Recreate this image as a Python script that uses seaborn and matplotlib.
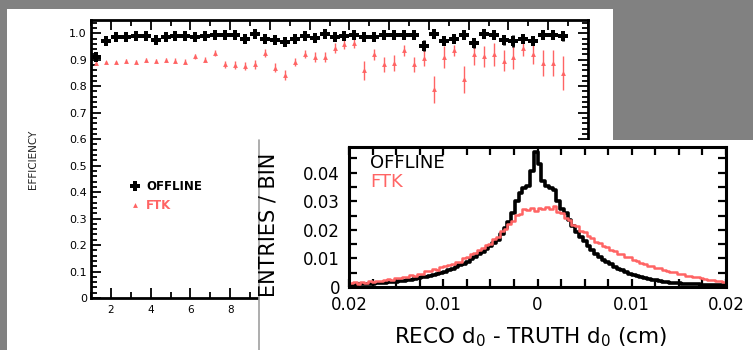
import numpy as np
import pandas as pd
import matplotlib
matplotlib.use("Agg")
import matplotlib.pyplot as plt
import matplotlib.ticker as mticker
from matplotlib.patches import Rectangle
from matplotlib.lines import Line2D
import seaborn as sns

sns.set_theme(style="ticks")
plt.rcParams["font.family"] = ["DejaVu Sans"]

RED = "#ff6464"
W, H = 753, 350

# efficiency vs pT, bin centres
pt_centres = [1.25, 1.75, 2.25, 2.75, 3.25, 3.75, 4.25, 4.75, 5.25, 5.75,
              6.25, 6.75, 7.25, 7.75, 8.25, 8.75, 9.25, 9.75, 10.25, 10.75,
              11.25, 11.75, 12.25, 12.75, 13.25, 13.75, 14.25, 14.75, 15.25, 15.75,
              16.25, 16.75, 17.25, 17.75, 18.25, 18.75, 19.25, 19.75, 20.25, 20.75,
              21.25, 21.75, 22.25, 22.75, 23.25, 23.75, 24.25, 24.75]
eff_offline = [0.910, 0.970, 0.986, 0.986, 0.990, 0.990, 0.975, 0.985, 0.990, 0.990,
               0.986, 0.990, 0.993, 0.993, 0.993, 0.977, 0.998, 0.980, 0.975, 0.968,
               0.980, 0.990, 0.983, 0.997, 0.986, 0.990, 0.995, 0.986, 0.986, 0.995,
               0.995, 0.995, 0.995, 0.953, 0.997, 0.972, 0.977, 0.995, 0.963, 0.997,
               0.995, 0.975, 0.970, 0.980, 0.972, 0.995, 0.995, 0.990]
err_offline = [0.004, 0.003, 0.003, 0.003, 0.003, 0.003, 0.003, 0.003, 0.003, 0.003,
               0.003, 0.003, 0.003, 0.003, 0.003, 0.004, 0.004, 0.004, 0.004, 0.005,
               0.005, 0.005, 0.005, 0.005, 0.005, 0.005, 0.005, 0.005, 0.005, 0.005,
               0.005, 0.005, 0.005, 0.020, 0.006, 0.018, 0.015, 0.006, 0.018, 0.010,
               0.010, 0.018, 0.022, 0.012, 0.018, 0.018, 0.018, 0.020]
eff_ftk = [0.886, 0.892, 0.890, 0.895, 0.892, 0.900, 0.897, 0.900, 0.897, 0.892,
           0.913, 0.900, 0.926, 0.882, 0.880, 0.876, 0.882, 0.926, 0.870, 0.842,
           0.891, 0.922, 0.910, 0.910, 0.945, 0.960, 0.962, 0.860, 0.920, 0.882,
           0.888, 0.935, 0.882, 0.905, 0.788, 0.910, 0.935, 0.826, 0.920, 0.913,
           0.920, 0.897, 0.910, 0.945, 0.922, 0.888, 0.888, 0.850]
err_ftk = [0.005, 0.005, 0.005, 0.006, 0.006, 0.007, 0.007, 0.008, 0.008, 0.009,
           0.010, 0.010, 0.012, 0.014, 0.014, 0.015, 0.016, 0.015, 0.016, 0.020,
           0.016, 0.016, 0.018, 0.018, 0.018, 0.018, 0.018, 0.035, 0.022, 0.030,
           0.030, 0.022, 0.030, 0.030, 0.050, 0.040, 0.022, 0.050, 0.040, 0.040,
           0.045, 0.040, 0.045, 0.030, 0.040, 0.050, 0.050, 0.065]

# d0 resolution, 100 bins of 0.0004 cm on [-0.02, 0.02]
D0_BINW = 0.0004
d0_centres = [round(-0.0198 + D0_BINW * i, 5) for i in range(100)]
d0_offline = [0.0008, 0.0008, 0.0009, 0.0010, 0.0010, 0.0011, 0.0012, 0.0013, 0.0014, 0.0015,
              0.0016, 0.0017, 0.0019, 0.0020, 0.0022, 0.0024, 0.0026, 0.0028, 0.0031, 0.0034,
              0.0036, 0.0039, 0.0042, 0.0045, 0.0049, 0.0053, 0.0058, 0.0063, 0.0069, 0.0076,
              0.0082, 0.0089, 0.0097, 0.0106, 0.0114, 0.0122, 0.0132, 0.0142, 0.0153, 0.0165,
              0.0185, 0.0205, 0.0228, 0.0258, 0.0300, 0.0330, 0.0345, 0.0352, 0.0405, 0.0474,
              0.0430, 0.0370, 0.0352, 0.0348, 0.0340, 0.0300, 0.0272, 0.0258, 0.0235, 0.0215,
              0.0192, 0.0175, 0.0160, 0.0145, 0.0130, 0.0117, 0.0106, 0.0096, 0.0087, 0.0079,
              0.0071, 0.0064, 0.0058, 0.0052, 0.0047, 0.0042, 0.0038, 0.0034, 0.0031, 0.0028,
              0.0025, 0.0023, 0.0021, 0.0019, 0.0017, 0.0015, 0.0014, 0.0013, 0.0012, 0.0011,
              0.0010, 0.0009, 0.0009, 0.0008, 0.0008, 0.0007, 0.0007, 0.0006, 0.0006, 0.0006]
d0_ftk = [0.0013, 0.0016, 0.0012, 0.0018, 0.0015, 0.0020, 0.0018, 0.0021, 0.0022, 0.0025,
          0.0027, 0.0025, 0.0032, 0.0031, 0.0035, 0.0035, 0.0041, 0.0037, 0.0046, 0.0045,
          0.0056, 0.0055, 0.0063, 0.0061, 0.0069, 0.0072, 0.0078, 0.0080, 0.0087, 0.0089,
          0.0100, 0.0105, 0.0114, 0.0118, 0.0130, 0.0135, 0.0148, 0.0152, 0.0168, 0.0175,
          0.0195, 0.0202, 0.0221, 0.0232, 0.0251, 0.0255, 0.0272, 0.0268, 0.0276, 0.0266,
          0.0278, 0.0272, 0.0281, 0.0274, 0.0284, 0.0262, 0.0258, 0.0242, 0.0235, 0.0217,
          0.0212, 0.0195, 0.0191, 0.0177, 0.0170, 0.0158, 0.0154, 0.0143, 0.0139, 0.0130,
          0.0126, 0.0116, 0.0114, 0.0105, 0.0104, 0.0094, 0.0092, 0.0084, 0.0082, 0.0074,
          0.0073, 0.0066, 0.0065, 0.0058, 0.0057, 0.0051, 0.0051, 0.0045, 0.0045, 0.0040,
          0.0039, 0.0034, 0.0034, 0.0030, 0.0029, 0.0026, 0.0025, 0.0022, 0.0022, 0.0017]

d0_df = pd.DataFrame({"d0": d0_centres, "offline": d0_offline, "ftk": d0_ftk})

fig = plt.figure(figsize=(W / 100, H / 100), dpi=100, facecolor="#818181")

# white slide panels
fig.add_artist(Rectangle((7 / W, 0), 606 / W, 341 / H, transform=fig.transFigure,
                         facecolor="white", edgecolor="none", zorder=-1))
fig.add_artist(Rectangle((259 / W, 0), 494 / W, 210 / H, transform=fig.transFigure,
                         facecolor="white", edgecolor="none", zorder=1))
fig.add_artist(Line2D([259 / W, 259 / W], [0, 210 / H], transform=fig.transFigure,
                      color="#a0a0a0", lw=1.2, zorder=1.1))

# ---- efficiency plot ----
ax = fig.add_axes([91 / W, 52 / H, 497 / W, 278 / H], zorder=0)
ax.set_facecolor("white")
ax.errorbar(pt_centres, eff_ftk, yerr=err_ftk, fmt="^", color=RED, ms=3.5,
            elinewidth=1.0, capsize=0, mew=0, zorder=3)
ax.errorbar(pt_centres, eff_offline, yerr=err_offline, fmt="P", color="black", ms=7.5,
            elinewidth=2.0, capsize=0, mew=0, zorder=4)
ax.set_xlim(1, 26)
ax.set_ylim(0, 1.05)
ax.xaxis.set_major_locator(mticker.MultipleLocator(2))
ax.xaxis.set_minor_locator(mticker.MultipleLocator(1))
# labels past 8 sit under the inset panel
ax.xaxis.set_major_formatter(mticker.FuncFormatter(lambda v, _: f"{v:.0f}" if v < 9 else ""))
ax.yaxis.set_major_locator(mticker.MultipleLocator(0.1))
ax.yaxis.set_minor_locator(mticker.MultipleLocator(0.02))
ax.yaxis.set_major_formatter(mticker.FuncFormatter(lambda v, _: "0" if abs(v) < 1e-9 else f"{v:.1f}"))
ax.tick_params(which="both", direction="in", top=True, right=True, width=1.3, colors="black")
ax.tick_params(which="major", length=7)
ax.tick_params(which="minor", length=4)
ax.tick_params(axis="y", which="major", labelsize=8, pad=3)
ax.tick_params(axis="x", which="major", labelsize=7.5, pad=5)
for s in ax.spines.values():
    s.set_linewidth(2)
    s.set_color("black")

handles = [Line2D([], [], marker="P", color="black", ls="none", ms=7, mew=0),
           Line2D([], [], marker="^", color=RED, ls="none", ms=3.5, mew=0)]
leg = ax.legend(handles, ["OFFLINE", "FTK"], loc="upper left", bbox_to_anchor=(0.08, 0.425),
                frameon=False, handlelength=0.8, handletextpad=0.5, labelspacing=0.55,
                borderpad=0, borderaxespad=0, prop={"weight": "bold", "size": 8.5})
for t, c in zip(leg.get_texts(), ["black", RED]):
    t.set_color(c)

fig.text(33 / W, 1 - 159 / H, "EFFICIENCY", rotation=90, ha="center", va="center",
         fontsize=7.5, color="#222222")

# ---- d0 resolution inset ----
ax2 = fig.add_axes([349 / W, 63 / H, 377 / W, 140 / H], zorder=2)
ax2.set_facecolor("white")
sns.histplot(data=d0_df, x="d0", weights="ftk", binwidth=D0_BINW, binrange=(-0.02, 0.02),
             element="step", fill=False, color=RED, linewidth=1.8, ax=ax2, zorder=2)
sns.histplot(data=d0_df, x="d0", weights="offline", binwidth=D0_BINW, binrange=(-0.02, 0.02),
             element="step", fill=False, color="black", linewidth=2.6, ax=ax2, zorder=1)
ax2.set_xlim(-0.02, 0.02)
ax2.set_ylim(0, 0.049)
ax2.set_xlabel("")
ax2.set_ylabel("")
ax2.xaxis.set_major_locator(mticker.MultipleLocator(0.01))
ax2.xaxis.set_minor_locator(mticker.MultipleLocator(0.0025))
ax2.yaxis.set_major_locator(mticker.MultipleLocator(0.01))
ax2.yaxis.set_minor_locator(mticker.MultipleLocator(0.005))
ax2.xaxis.set_major_formatter(mticker.FuncFormatter(lambda v, _: "0" if abs(v) < 1e-9 else f"{abs(v):.2f}"))
ax2.yaxis.set_major_formatter(mticker.FuncFormatter(lambda v, _: "0" if abs(v) < 1e-9 else f"{v:.2f}"))
ax2.tick_params(which="both", direction="in", top=True, right=True, width=1.6,
                length=6, colors="black", labelsize=12)
ax2.tick_params(axis="y", pad=6.5)
ax2.tick_params(axis="x", pad=6.5)
for s in ax2.spines.values():
    s.set_linewidth(2.2)
    s.set_color("black")
ax2.text(0.056, 0.886, "OFFLINE", transform=ax2.transAxes, ha="left", va="center",
         fontsize=13, color="black")
ax2.text(0.056, 0.75, "FTK", transform=ax2.transAxes, ha="left", va="center",
         fontsize=13, color=RED)

fig.text(269 / W, 1 - 225 / H, "ENTRIES / BIN", rotation=90, ha="center", va="center",
         fontsize=15, color="black", zorder=5)
fig.text(530 / W, 1 - 343 / H, r"RECO d$_0$ - TRUTH d$_0$ (cm)", ha="center",
         va="baseline", fontsize=15.5, color="black", zorder=5)

fig.savefig("out.png", dpi=100, facecolor=fig.get_facecolor())
